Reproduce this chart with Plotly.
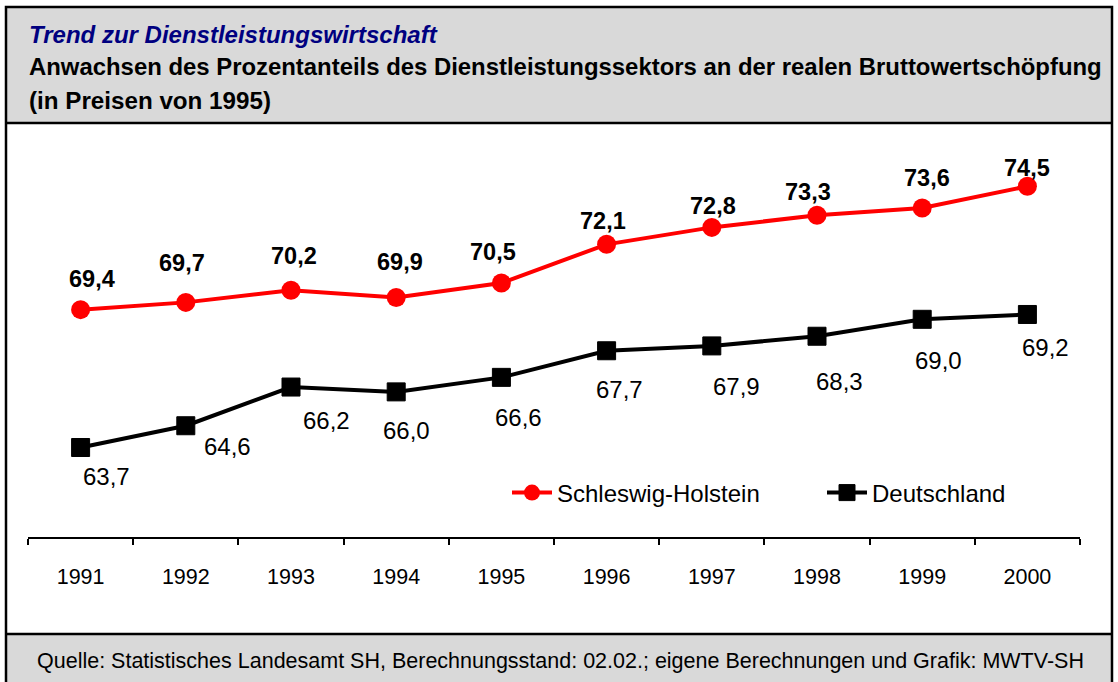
import plotly.graph_objects as go

years = ["1991", "1992", "1993", "1994", "1995", "1996", "1997", "1998", "1999", "2000"]
sh_values = [69.4, 69.7, 70.2, 69.9, 70.5, 72.1, 72.8, 73.3, 73.6, 74.5]
de_values = [63.7, 64.6, 66.2, 66.0, 66.6, 67.7, 67.9, 68.3, 69.0, 69.2]
sh_name = "Schleswig-Holstein"
de_name = "Deutschland"

title1 = "Trend zur Dienstleistungswirtschaft"
title2 = "Anwachsen des Prozentanteils des Dienstleistungssektors an der realen Bruttowertschöpfung"
title3 = "(in Preisen von 1995)"
source = "Quelle: Statistisches Landesamt SH, Berechnungsstand: 02.02.; eigene Berechnungen und Grafik: MWTV-SH"

# label offsets (pixels, x right / y down) - styling
sh_off = [(11, -31), (-4, -39), (3, -34), (4, -36), (-8, -31), (-4, -23), (1, -21), (-9, -23), (5, -30), (0, -18)]
de_off = [(26, 29), (42, 21), (35, 33), (10, 39), (17, 40), (13, 39), (25, 41), (22, 45), (16, 41), (18, 33)]

W, H = 1118, 682
L, R, T, B = 28, 1080, 150, 537
YMIN, YMAX = 60, 76
FONT = "Liberation Sans, Arial, sans-serif"

def py(p):
    return (B - p) / (B - T)

def px(p):
    return (p - L) / (R - L)

fig = go.Figure()
fig.add_trace(go.Scatter(x=years, y=sh_values, name=sh_name, mode="lines+markers", legend="legend",
                         line=dict(color="#ff0000", width=4),
                         marker=dict(symbol="circle", size=19, color="#ff0000")))
fig.add_trace(go.Scatter(x=years, y=de_values, name=de_name, mode="lines+markers", legend="legend2",
                         line=dict(color="#000000", width=4),
                         marker=dict(symbol="square", size=18, color="#000000",
                                     line=dict(color="#000000", width=1))))

ann = []
for i, v in enumerate(sh_values):
    ann.append(dict(x=i, y=v, xref="x", yref="y", text="<b>" + f"{v:.1f}".replace(".", ",") + "</b>",
                    showarrow=False, xshift=sh_off[i][0], yshift=-sh_off[i][1],
                    font=dict(family=FONT, size=23.5, color="#000000")))
for i, v in enumerate(de_values):
    ann.append(dict(x=i, y=v, xref="x", yref="y", text=f"{v:.1f}".replace(".", ","),
                    showarrow=False, xshift=de_off[i][0], yshift=-de_off[i][1],
                    font=dict(family=FONT, size=24, color="#000000")))

ann.append(dict(x=px(27), y=py(34), xref="paper", yref="paper", xanchor="left", yanchor="middle",
                text="<b><i>" + title1 + "</i></b>", showarrow=False,
                font=dict(family=FONT, size=24, color="#000080")))
ann.append(dict(x=px(27), y=py(67), xref="paper", yref="paper", xanchor="left", yanchor="middle",
                text="<b>" + title2 + "</b>", showarrow=False,
                font=dict(family=FONT, size=23.9, color="#000000")))
ann.append(dict(x=px(27), y=py(101), xref="paper", yref="paper", xanchor="left", yanchor="middle",
                text="<b>" + title3 + "</b>", showarrow=False,
                font=dict(family=FONT, size=24.2, color="#000000")))
ann.append(dict(x=px(560), y=py(661), xref="paper", yref="paper", xanchor="center", yanchor="middle",
                text=source, showarrow=False,
                font=dict(family=FONT, size=21.5, color="#000000")))

shapes = [
    dict(type="rect", xref="paper", yref="paper", x0=px(6), x1=px(1112), y0=py(123), y1=py(7),
         fillcolor="#d9d9d9", line=dict(width=0), layer="below"),
    dict(type="rect", xref="paper", yref="paper", x0=px(6), x1=px(1112), y0=py(690), y1=py(634),
         fillcolor="#d9d9d9", line=dict(width=0), layer="below"),
    dict(type="rect", xref="paper", yref="paper", x0=px(6), x1=px(1112), y0=py(690), y1=py(7),
         line=dict(color="#000000", width=2.5)),
    dict(type="line", xref="paper", yref="paper", x0=px(6), x1=px(1112), y0=py(123), y1=py(123),
         line=dict(color="#000000", width=2.5)),
    dict(type="line", xref="paper", yref="paper", x0=px(6), x1=px(1112), y0=py(634), y1=py(634),
         line=dict(color="#000000", width=2.5)),
]

legend_style = dict(orientation="h", xanchor="left", yanchor="middle", bgcolor="rgba(0,0,0,0)",
                    font=dict(family=FONT, size=24, color="#000000"), itemwidth=40)

fig.update_layout(
    width=W, height=H,
    margin=dict(l=L, r=W - R, t=T, b=H - B, pad=0, autoexpand=False),
    paper_bgcolor="#ffffff", plot_bgcolor="#ffffff",
    font=dict(family=FONT, size=18, color="#000000"),
    showlegend=True,
    legend=dict(x=px(507), y=py(493), **legend_style),
    legend2=dict(x=px(822), y=py(493), **legend_style),
    annotations=ann, shapes=shapes,
)
fig.update_xaxes(type="category", tickson="boundaries", ticks="outside", ticklen=6, tickwidth=1.5,
                 tickcolor="#000000", showline=True, linecolor="#000000", linewidth=1.5,
                 showgrid=False, zeroline=False, ticklabelstandoff=19,
                 tickfont=dict(family=FONT, size=21.5, color="#000000"), range=[-0.5, 9.5], fixedrange=True)
fig.update_yaxes(range=[YMIN, YMAX], visible=False, showgrid=False, zeroline=False, fixedrange=True)

fig.write_html("out.html", config={"displayModeBar": False},
               post_script="document.body.style.margin='0';document.body.style.overflow='hidden';")
